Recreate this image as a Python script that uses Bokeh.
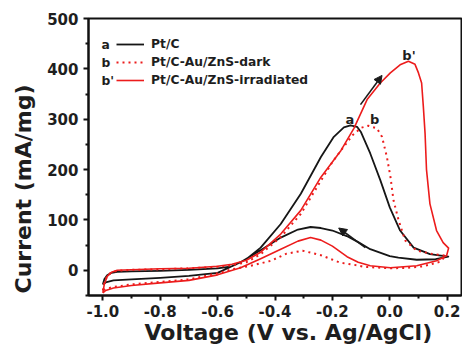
from bokeh.plotting import figure
from bokeh.models import (Range1d, FixedTicker, Label, Legend, LegendItem, Arrow, NormalHead, Title)
from bokeh.embed import file_html
from bokeh.resources import INLINE

# ---------------- data ----------------
# a : Pt/C (black solid)
pt_c_fwd_v = [-1.00, -0.995, -0.985, -0.97, -0.95, -0.90, -0.80, -0.70, -0.60, -0.55, -0.50, -0.45,
              -0.38, -0.31, -0.24, -0.195, -0.16, -0.137, -0.114, -0.10, -0.068, -0.033, 0.00,
              0.036, 0.083, 0.14, 0.204]
pt_c_fwd_i = [-28, -18, -10, -5, -3, -2, -1, 1, 4, 8, 22, 45,
              92, 152, 225, 265, 284, 288, 285, 274, 232, 179, 125,
              79, 45, 32, 27]
pt_c_bwd_v = [0.204, 0.16, 0.094, 0.03, 0.00, -0.068, -0.11, -0.15, -0.20, -0.24, -0.276, -0.32,
              -0.38, -0.45, -0.52, -0.60, -0.70, -0.80, -0.90, -0.963, -0.99, -1.00]
pt_c_bwd_i = [27, 22, 21, 25, 28, 42, 56, 68, 79, 84, 86, 81,
              65, 40, 16, -5, -11, -15, -18, -20, -24, -28]

# b : Pt/C-Au/ZnS-dark (red dotted)
dark_fwd_v = [-1.00, -0.995, -0.985, -0.97, -0.95, -0.90, -0.80, -0.70, -0.60, -0.55, -0.50, -0.45,
              -0.38, -0.31, -0.24, -0.20, -0.17, -0.13, -0.10, -0.075, -0.045, -0.027, -0.010,
              0.002, 0.013, 0.031, 0.054, 0.094, 0.152, 0.195]
dark_fwd_i = [-40, -25, -11, -4, -1, 1, 2, 4, 7, 10, 16, 32,
              66, 112, 178, 215, 238, 268, 283, 287, 282, 265, 225,
              187, 139, 99, 59, 39, 32, 29]
dark_bwd_v = [0.195, 0.175, 0.117, 0.06, 0.002, -0.09, -0.114, -0.172, -0.24, -0.304, -0.36, -0.414,
              -0.484, -0.55, -0.60, -0.70, -0.80, -0.90, -0.963, -0.99, -1.00]
dark_bwd_i = [29, 17, 8, 5, 4, 7, 10, 15, 30, 39, 33, 19,
              9, 2, -6, -18, -23, -28, -33, -37, -40]

# b' : Pt/C-Au/ZnS-irradiated (red solid)
irr_fwd_v = [-1.00, -0.995, -0.985, -0.97, -0.95, -0.90, -0.80, -0.70, -0.60, -0.55, -0.50, -0.45,
             -0.38, -0.31, -0.24, -0.17, -0.125, -0.079, -0.033, 0.002, 0.036, 0.065, 0.088,
             0.100, 0.111, 0.117, 0.123, 0.128, 0.140, 0.163, 0.186, 0.205]
irr_fwd_i = [-45, -28, -12, -4, 0, 1, 3, 4, 8, 12, 20, 36,
             72, 119, 185, 238, 282, 339, 372, 392, 408, 415, 409,
             392, 372, 325, 272, 200, 132, 79, 55, 44]
irr_bwd_v = [0.205, 0.198, 0.163, 0.094, 0.002, -0.068, -0.11, -0.149, -0.20, -0.24, -0.276, -0.32,
             -0.38, -0.45, -0.52, -0.60, -0.70, -0.80, -0.90, -0.963, -0.99, -1.00]
irr_bwd_i = [44, 29, 19, 9, 5, 9, 16, 27, 48, 60, 65, 58,
             42, 23, 5, -9, -20, -25, -30, -35, -40, -45]

series_names = ["Pt/C", "Pt/C-Au/ZnS-dark", "Pt/C-Au/ZnS-irradiated"]
series_tags = ["a", "b", "b'"]

x_ticks = [-1.0, -0.8, -0.6, -0.4, -0.2, 0.0, 0.2]
x_tick_labels = ["-1.0", "-0.8", "-0.6", "-0.4", "-0.2", "0.0", "0.2"]
x_minor = [-0.9, -0.7, -0.5, -0.3, -0.1, 0.1]
y_ticks = [0, 100, 200, 300, 400, 500]
y_tick_labels = ["0", "100", "200", "300", "400", "500"]
y_minor = [-50, 50, 150, 250, 350, 450]

# ---------------- styling ----------------
FONT = "DejaVu Sans"
BLACK = "#161616"
RED = "#ec1c1c"
TXT = "#1e1e1e"

p = figure(width=462, height=350, output_backend="svg", toolbar_location=None,
           x_range=Range1d(-1.05, 0.25), y_range=Range1d(-50, 500),
           min_border_left=87, min_border_right=1, min_border_top=18, min_border_bottom=55)
p.background_fill_color = "white"
p.border_fill_color = "white"
p.grid.visible = False
p.outline_line_color = "#111111"
p.outline_line_width = 2

for ax, ticks, minor, labels in ((p.xaxis[0], x_ticks, x_minor, x_tick_labels),
                                 (p.yaxis[0], y_ticks, y_minor, y_tick_labels)):
    ax.ticker = FixedTicker(ticks=ticks, minor_ticks=minor)
    ax.major_label_overrides = dict(zip(ticks, labels))
    ax.axis_line_width = 2
    ax.axis_line_color = "#111111"
    ax.major_tick_line_width = 2
    ax.minor_tick_line_width = 2
    ax.major_tick_line_color = "#111111"
    ax.minor_tick_line_color = "#111111"
    ax.major_tick_in = 0
    ax.minor_tick_in = 0
    ax.major_tick_out = 5
    ax.minor_tick_out = 3
    ax.major_label_text_font = FONT
    ax.major_label_text_font_style = "bold"
    ax.major_label_text_font_size = "15px"
    ax.major_label_text_color = TXT
p.xaxis.major_label_standoff = 4
p.yaxis.major_label_standoff = 5

r_a = p.line(pt_c_fwd_v + pt_c_bwd_v, pt_c_fwd_i + pt_c_bwd_i, line_color=BLACK,
             line_width=1.8, line_join="round")
r_b = p.line(dark_fwd_v + dark_bwd_v, dark_fwd_i + dark_bwd_i, line_color=RED,
             line_width=2, line_dash="2 4", line_join="round")
r_bp = p.line(irr_fwd_v + irr_bwd_v, irr_fwd_i + irr_bwd_i, line_color=RED,
              line_width=1.6, line_join="round")

legend = Legend(items=[LegendItem(label=n, renderers=[r]) for n, r in zip(series_names, [r_a, r_b, r_bp])],
                location=(28, 208), padding=0, margin=0, spacing=4,
                glyph_width=28, glyph_height=14, label_height=14, label_standoff=7,
                label_text_font=FONT, label_text_font_style="bold", label_text_font_size="12.3px",
                label_text_color=TXT, border_line_color=None, background_fill_alpha=0)
p.add_layout(legend)

for tag, yy in zip(series_tags, [251, 233, 215]):
    p.add_layout(Label(x=13, y=yy, x_units="screen", y_units="screen", text=tag,
                       text_font=FONT, text_font_style="bold", text_font_size="12.3px",
                       text_color=TXT, text_baseline="middle", text_align="left"))

# peak tags
for tag, xv, yv in zip(series_tags, [-0.139, -0.053, 0.067], [300, 300, 427]):
    p.add_layout(Label(x=xv, y=yv, text=tag, text_font=FONT, text_font_style="bold",
                       text_font_size="13px", text_color=TXT, text_align="center",
                       text_baseline="alphabetic"))

# scan-direction arrows
p.add_layout(Arrow(x_start=-0.102, y_start=329, x_end=-0.027, y_end=387,
                   line_color="#1a1a1a", line_width=1.6,
                   end=NormalHead(size=8, fill_color="#1a1a1a", line_color="#1a1a1a")))
p.add_layout(Arrow(x_start=-0.085, y_start=45, x_end=-0.178, y_end=84,
                   line_color="#1a1a1a", line_width=1.6,
                   end=NormalHead(size=8, fill_color="#1a1a1a", line_color="#1a1a1a")))

# axis titles
p.add_layout(Title(text="Voltage (V vs. Ag/AgCl)", align="left", offset=56, standoff=-4,
                   text_font=FONT, text_font_style="bold", text_font_size="22px",
                   text_color=TXT), "below")
p.add_layout(Title(text="Current (mA/mg)", align="left", offset=2, standoff=17,
                   text_font=FONT, text_font_style="bold", text_font_size="22px",
                   text_color=TXT), "left")

open("out.html", "w").write(file_html(p, INLINE))
